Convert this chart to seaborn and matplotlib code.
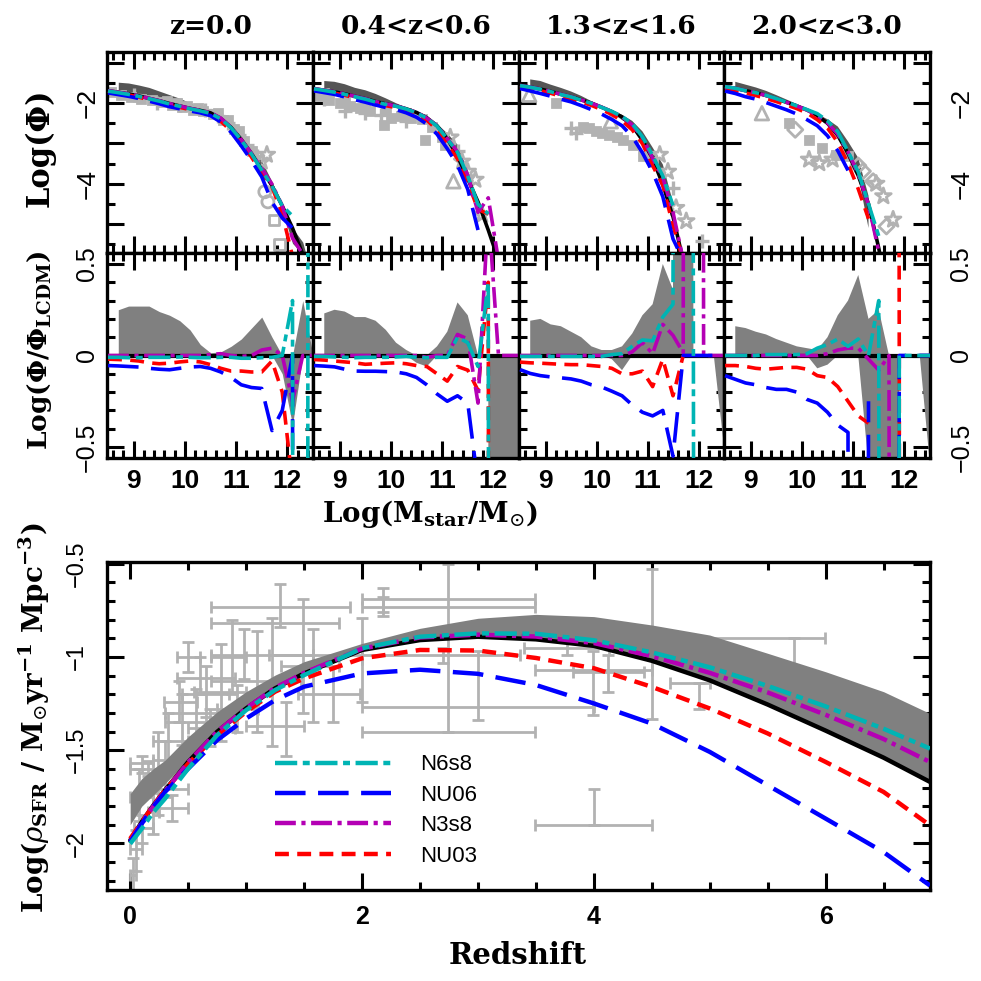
import numpy as np
import matplotlib
matplotlib.use("Agg")
import matplotlib.pyplot as plt
from matplotlib.ticker import MultipleLocator, FuncFormatter
import seaborn as sns

nan = np.nan

# ---------------------------------------------------------------- data
# stellar mass grid, log(Mstar/Msun), shared by the top and middle rows
mass = [8.5, 8.7, 8.9, 9.1, 9.3, 9.5, 9.7, 9.9, 10.1, 10.3, 10.5,
        10.7, 10.9, 11.1, 11.3, 11.5, 11.7, 11.9, 12.1, 12.3, 12.5]

titles = ["z=0.0", "0.4<z<0.6", "1.3<z<1.6", "2.0<z<3.0"]

# log Phi of the LCDM run in each redshift bin
lcdm_z0 = [-1.69, -1.73, -1.77, -1.82, -1.88, -1.94, -2.01, -2.07, -2.13, -2.18, -2.24,
           -2.38, -2.60, -2.90, -3.25, -3.65, -4.05, -4.55, -5.10, -5.75, -6.40]
lcdm_z05 = [-1.64, -1.68, -1.72, -1.77, -1.83, -1.89, -1.96, -2.02, -2.07, -2.14, -2.23,
            -2.36, -2.56, -2.88, -3.32, -3.88, -4.45, -5.15, -5.90, -6.60, -7.30]
lcdm_z15 = [-1.56, -1.60, -1.65, -1.71, -1.78, -1.84, -1.92, -2.00, -2.10, -2.21, -2.34,
            -2.56, -2.92, -3.38, -4.02, -4.82, -5.90, -7.0, -8.0, -9.0, -10.0]
lcdm_z25 = [-1.59, -1.63, -1.69, -1.74, -1.81, -1.89, -1.98, -2.07, -2.17, -2.30, -2.50,
            -2.80, -3.25, -3.80, -4.50, -5.60, -7.0, -8.0, -9.0, -10.0, -11.0]

# spread of the LCDM realisations, log(Phi/Phi_LCDM): upper and lower edge
# (+/-50 marks an empty bin, i.e. far outside the plotted range)
spread_hi_z0 = [nan, 0.25, 0.27, 0.27, 0.27, 0.24, 0.22, 0.19, 0.14, 0.06, 0.015,
                0.02, 0.05, 0.09, 0.15, 0.21, 0.10, 0.0, 0.0, 0.30, 0.0]
spread_lo_z0 = [nan, 0, 0, 0, 0, 0, 0, 0, 0, 0, 0,
                0, 0, 0, 0, 0, 0, -0.10, -0.38, 0.0, 0.0]
spread_hi_z05 = [nan, 0.23, 0.25, 0.24, 0.21, 0.21, 0.19, 0.14, 0.07, 0.03, 0.0,
                 0.0, 0.05, 0.13, 0.29, 0.22, 0.0, 0.0, 0.0, 0.0, 0.0]
spread_lo_z05 = [nan, 0, 0, 0, 0, 0, 0, 0, 0, 0, -0.04,
                 -0.06, 0, 0, 0, 0, 0, 0.0, -50, -50, 0.0]
spread_hi_z15 = [nan, 0.19, 0.20, 0.17, 0.16, 0.13, 0.10, 0.05, 0.03, 0.03, 0.05,
                 0.12, 0.22, 0.28, 0.50, 0.36, 50, 0.0, 0.0, 0.0, 0.0]
spread_lo_z15 = [nan, 0, 0, 0, 0, 0, 0, 0, 0, -0.02, -0.08,
                 0, 0, 0, 0, 0, 0, 0, 0, 0, -0.5]
spread_hi_z25 = [nan, 0.16, 0.15, 0.13, 0.115, 0.09, 0.07, 0.05, 0.04, 0.03, 0.10,
                 0.22, 0.30, 0.44, 0.20, 0.25, 0.0, 0.0, 0.0, 0.0, 0.0]
spread_lo_z25 = [nan, 0, 0, 0, 0, 0, 0, 0, 0, -0.07, -0.05,
                 0, 0, 0, -0.6, -50, -50, 0.0, 0, 0, -0.6]

# model mass functions relative to LCDM, log(Phi/Phi_LCDM)
n6s8_z0 = [-0.01, -0.01, -0.012, -0.012, -0.01, -0.01, -0.01, -0.008, -0.01, -0.012, -0.012,
           -0.01, -0.01, -0.015, -0.015, -0.012, -0.01, 0.0, 0.30, -50, 50]
nu06_z0 = [-0.055, -0.057, -0.06, -0.063, -0.07, -0.075, -0.078, -0.07, -0.063, -0.06, -0.07,
           -0.09, -0.12, -0.16, -0.175, -0.18, -0.41, -0.30, 0.0, -50, nan]
n3s8_z0 = [0.0, 0.0, 0.0, 0.0, 0.0, 0.0, 0.0, 0.0, 0.0, 0.0, 0.005,
           0.01, 0.0, -0.005, 0.0, 0.03, 0.04, 0.0, -0.25, 0.0, 0.0]
nu03_z0 = [-0.02, -0.022, -0.025, -0.03, -0.04, -0.045, -0.042, -0.035, -0.03, -0.035, -0.05,
           -0.07, -0.085, -0.085, -0.09, -0.09, -0.03, -0.20, -0.70, nan, nan]

n6s8_z05 = [-0.005, -0.005, -0.008, -0.01, -0.012, -0.01, -0.01, -0.01, -0.008, -0.005, -0.01,
            -0.012, -0.01, -0.01, 0.10, 0.07, -0.06, 0.40, -50, nan, nan]
nu06_z05 = [-0.055, -0.058, -0.062, -0.075, -0.085, -0.086, -0.086, -0.088, -0.09, -0.10, -0.12,
            -0.16, -0.21, -0.25, -0.22, -0.26, -0.70, nan, nan, nan, nan]
n3s8_z05 = [0.0, 0.0, 0.0, 0.0, 0.0, 0.0, 0.0, 0.0, 0.0, 0.0, 0.0,
            -0.01, 0.0, 0.0, 0.115, 0.09, -0.26, 0.80, 0.0, 0.0, 0.0]
nu03_z05 = [-0.022, -0.025, -0.03, -0.035, -0.04, -0.048, -0.045, -0.042, -0.04, -0.045, -0.055,
            -0.06, -0.10, -0.14, -0.06, -0.08, -0.19, 0.40, -50, nan, nan]

n6s8_z15 = [-0.005, -0.005, -0.005, -0.005, -0.005, -0.005, -0.005, -0.005, -0.005, 0.005, 0.01,
            0.05, 0.085, 0.08, 0.21, 0.28, 50, 0.0, -50, nan, 0.0]
nu06_z15 = [-0.077, -0.098, -0.11, -0.117, -0.122, -0.128, -0.14, -0.16, -0.172, -0.195, -0.22,
            -0.27, -0.31, -0.33, -0.30, -0.55, 0.0, 0.0, 0.0, 0.0, 0.0]
n3s8_z15 = [0.0, 0.0, 0.0, 0.0, 0.0, 0.0, 0.0, 0.0, 0.0, 0.0, 0.0,
            0.02, 0.07, 0.01, 0.17, 0.11, 0.015, 50, 0.0, 0.0, 0.0]
nu03_z15 = [-0.036, -0.04, -0.042, -0.045, -0.048, -0.05, -0.05, -0.055, -0.06, -0.07, -0.10,
            -0.10, -0.085, -0.17, -0.02, -0.22, 0.0, nan, nan, nan, nan]

n6s8_z25 = [0.0, 0.0, 0.0, 0.0, 0.005, 0.005, 0.005, 0.005, 0.01, 0.04, 0.06,
            0.09, 0.05, 0.09, 0.0, 0.30, -50, 0.0, 0.0, 0.0, 0.0]
nu06_z25 = [-0.11, -0.13, -0.15, -0.16, -0.175, -0.185, -0.185, -0.20, -0.24, -0.26, -0.31,
            -0.38, -0.42, -50, -0.25, nan, -50, 0.0, 0.0, 0.0, 0.0]
n3s8_z25 = [0.0, 0.0, 0.0, 0.0, 0.0, 0.0, 0.0, 0.0, 0.0, 0.0, 0.01,
            0.03, 0.04, 0.04, -0.02, -0.08, 0.0, -50, nan, 0.0, 0.0]
nu03_z25 = [-0.055, -0.055, -0.06, -0.07, -0.075, -0.07, -0.065, -0.065, -0.075, -0.11, -0.12,
            -0.17, -0.25, -0.33, -0.37, nan, 50, 0.0, -50, nan, nan]

# observed stellar mass functions (light grey symbols), (logM, logPhi)
obs_z0 = {
    "s": [(8.55, -1.72), (8.75, -1.80), (8.95, -1.85), (9.15, -1.90), (9.35, -1.93),
          (9.55, -1.97), (9.75, -2.05), (9.95, -2.10), (10.15, -2.17), (10.35, -2.20),
          (10.55, -2.27), (10.75, -2.42), (10.95, -2.64), (11.15, -2.95), (11.30, -3.20),
          (9.65, -1.95), (9.85, -2.00), (10.05, -2.08), (10.25, -2.12), (10.65, -2.25),
          (10.85, -2.42), (11.05, -2.70)],
    "+": [(9.0, -1.80), (9.45, -1.99), (9.9, -2.05), (10.4, -2.16), (10.65, -2.32),
          (10.85, -2.50), (11.05, -2.78), (11.22, -3.05), (11.40, -3.30)],
    "*": [(11.60, -3.28), (11.50, -3.45)],
    "o": [(11.62, -4.45), (11.56, -4.20)],
    "box": [(11.74, -4.90), (11.84, -5.50)],
}
obs_z05 = {
    "s": [(8.6, -1.82), (8.8, -1.93), (9.0, -2.00), (9.2, -2.08), (9.4, -2.13), (9.6, -2.20),
          (9.87, -2.54), (10.0, -2.38), (10.2, -2.32), (10.4, -2.36), (10.66, -2.91),
          (10.8, -2.60), (11.0, -2.85), (8.7, -1.75), (9.1, -1.92), (9.5, -2.05),
          (9.9, -2.20), (10.3, -2.25), (10.6, -2.40), (11.05, -3.05)],
    "+": [(8.7, -1.90), (9.1, -2.20), (9.5, -2.25), (9.8, -2.30), (10.3, -2.45),
          (11.1, -2.95), (11.3, -3.20)],
    "*": [(11.16, -2.85), (11.39, -3.45), (11.65, -3.90), (11.78, -4.77), (11.50, -3.70)],
    "^": [(11.22, -3.94)],
}
obs_z15 = {
    "s": [(9.2, -2.00), (9.73, -2.58), (9.99, -2.70), (10.25, -2.79), (10.52, -2.91),
          (10.71, -3.03), (10.91, -3.32), (9.85, -2.62), (10.1, -2.75), (10.4, -2.85),
          (11.1, -3.45)],
    "+": [(9.6, -2.74), (9.5, -2.62), (11.5, -4.10), (12.06, -5.43)],
    "*": [(11.24, -3.28), (11.40, -3.70), (11.56, -4.60), (11.76, -4.93)],
    "^": [(8.68, -1.79), (10.28, -2.45)],
}
obs_z25 = {
    "s": [(9.74, -2.50), (10.14, -2.91), (10.4, -3.12), (10.66, -3.28), (10.9, -3.30)],
    "*": [(10.14, -3.40), (10.34, -3.49), (10.6, -3.40), (11.59, -4.31), (11.78, -4.89),
          (11.45, -4.00)],
    "^": [(9.22, -2.25)],
    "D": [(9.87, -2.66), (11.19, -3.69), (11.39, -3.94), (11.65, -5.06), (11.10, -3.55)],
}

# cosmic star formation history
zgrid = [0.0, 0.1, 0.2, 0.3, 0.5, 0.75, 1.0, 1.25, 1.5, 2.0,
         2.5, 3.0, 3.5, 4.0, 4.5, 5.0, 5.5, 6.0, 6.5, 6.9]
sfr_lcdm = [-1.984, -1.885, -1.796, -1.715, -1.563, -1.401, -1.276, -1.168, -1.088, -0.962,
            -0.909, -0.891, -0.905, -0.94, -1.02, -1.125, -1.255, -1.395, -1.54, -1.67]
sfr_band_hi = [-1.733, -1.652, -1.599, -1.554, -1.428, -1.294, -1.186, -1.097, -1.025, -0.927,
               -0.846, -0.792, -0.771, -0.783, -0.828, -0.882, -0.98, -1.079, -1.186, -1.303]
sfr_band_lo = [-1.90, -1.80, -1.74, -1.68, -1.55, -1.40, -1.27, -1.16, -1.08, -0.955,
               -0.90, -0.885, -0.90, -0.935, -1.015, -1.12, -1.25, -1.39, -1.535, -1.665]
sfr_n6s8 = [-2.002, -1.921, -1.832, -1.76, -1.599, -1.419, -1.285, -1.177, -1.097, -0.953,
            -0.891, -0.873, -0.875, -0.91, -0.975, -1.055, -1.155, -1.265, -1.385, -1.491]
sfr_nu06 = [-1.993, -1.894, -1.805, -1.724, -1.599, -1.446, -1.33, -1.231, -1.159, -1.088,
            -1.068, -1.09, -1.15, -1.249, -1.357, -1.509, -1.688, -1.867, -2.047, -2.226]
sfr_n3s8 = [-1.99, -1.89, -1.80, -1.72, -1.565, -1.40, -1.275, -1.165, -1.085, -0.955,
            -0.895, -0.88, -0.89, -0.925, -0.995, -1.085, -1.19, -1.31, -1.44, -1.563]
sfr_nu03 = [-1.975, -1.885, -1.796, -1.715, -1.572, -1.419, -1.294, -1.186, -1.115, -1.007,
            -0.962, -0.965, -1.005, -1.06, -1.16, -1.276, -1.41, -1.563, -1.724, -1.903]

# observed SFR densities: z, value, z range, value range
obs_z = [0.02, 0.05, 0.10, 0.10, 0.15, 0.24, 0.30, 0.36, 0.20, 0.50, 0.42, 0.57, 0.60, 0.69,
         0.78, 0.88, 0.98, 1.09, 1.22, 1.29, 1.34, 1.49, 1.58, 1.75, 2.00, 2.18, 2.18, 2.74,
         3.00, 2.70, 3.77, 4.12, 4.50, 4.91, 5.73, 4.00, 3.99, 0.08, 0.33, 0.45, 0.65, 0.92]
obs_sfr = [-2.17, -2.03, -1.92, -1.57, -1.60, -1.71, -1.55, -1.81, -1.83, -1.00, -1.24, -1.30,
           -1.11, -1.38, -1.19, -1.00, -0.99, -1.13, -0.82, -0.73, -1.37, -0.99, -1.05, -1.20,
           -1.01, -0.69, -0.73, -1.40, -1.27, -0.99, -0.95, -1.08, -0.93, -1.14, -0.90, -1.90,
           -1.07, -1.75, -1.45, -1.35, -1.20, -1.28]
obs_zlo = [0.0, 0.0, 0.03, 0.0, 0.0, 0.10, 0.20, 0.20, 0.15, 0.40, 0.29, 0.30, 0.40, 0.50,
           0.55, 0.70, 0.70, 0.70, 0.70, 0.70, 1.00, 1.20, 1.30, 1.45, 2.00, 2.00, 2.00, 2.00,
           2.00, 2.00, 3.40, 3.82, 4.50, 4.66, 4.66, 3.49, 3.49, 0.0, 0.20, 0.30, 0.45, 0.75]
obs_zhi = [0.05, 0.10, 0.20, 0.20, 0.35, 0.50, 0.40, 0.50, 0.25, 0.60, 0.58, 0.90, 0.90, 0.90,
           1.00, 1.00, 1.58, 1.47, 1.80, 1.90, 1.50, 2.00, 1.80, 1.98, 2.00, 3.49, 3.49, 3.49,
           4.00, 3.36, 4.13, 4.43, 4.50, 5.00, 5.99, 4.50, 4.50, 0.20, 0.50, 0.65, 0.85, 1.10]
obs_slo = [-2.26, -2.15, -2.00, -1.62, -1.64, -1.85, -1.75, -1.88, -1.95, -1.08, -1.35, -1.43,
           -1.20, -1.48, -1.45, -1.20, -1.12, -1.40, -1.48, -0.84, -1.53, -1.30, -1.35, -1.35,
           -1.24, -0.76, -0.78, -1.40, -1.34, -1.03, -0.99, -1.19, -1.33, -1.28, -1.07, -1.90,
           -1.31, -1.88, -1.58, -1.47, -1.32, -1.40]
obs_shi = [-2.08, -1.93, -1.85, -1.53, -1.56, -1.40, -1.45, -1.74, -1.73, -0.92, -1.13, -1.17,
           -1.00, -1.28, -0.93, -0.80, -0.85, -0.86, -0.79, -0.61, -1.24, -0.69, -0.85, -1.05,
           -0.79, -0.63, -0.68, -0.50, -0.97, -0.95, -0.90, -0.99, -0.53, -1.14, -0.90, -1.71,
           -0.97, -1.60, -1.30, -1.20, -1.05, -1.15]

# ---------------------------------------------------------------- style
sns.set_theme(style="ticks")
plt.rcParams["font.family"] = ["Liberation Sans", "DejaVu Sans"]
plt.rcParams["mathtext.fontset"] = "dejavuserif"
plt.rcParams["lines.scale_dashes"] = False
plt.rcParams["axes.linewidth"] = 2.4
plt.rcParams["axes.edgecolor"] = "black"
plt.rcParams["text.color"] = "black"
plt.rcParams["axes.labelcolor"] = "black"
plt.rcParams["xtick.color"] = "black"
plt.rcParams["ytick.color"] = "black"
plt.rcParams["legend.labelcolor"] = "black"

CYAN, BLUE, MAGENTA, RED = "#00b4b4", "#0000ff", "#b400b4", "#ff0000"
OBS = "#b2b2b2"
models = [("N6s8", CYAN, (0, (16, 4, 5, 4))),
          ("NU06", BLUE, (0, (22, 9))),
          ("N3s8", MAGENTA, (0, (15, 4, 3, 4))),
          ("NU03", RED, (0, (10, 6)))]
draw_order = ["NU03", "N3s8", "NU06", "N6s8"]

lcdm = [lcdm_z0, lcdm_z05, lcdm_z15, lcdm_z25]
spread_hi = [spread_hi_z0, spread_hi_z05, spread_hi_z15, spread_hi_z25]
spread_lo = [spread_lo_z0, spread_lo_z05, spread_lo_z15, spread_lo_z25]
ratios = {"N6s8": [n6s8_z0, n6s8_z05, n6s8_z15, n6s8_z25],
          "NU06": [nu06_z0, nu06_z05, nu06_z15, nu06_z25],
          "N3s8": [n3s8_z0, n3s8_z05, n3s8_z15, n3s8_z25],
          "NU03": [nu03_z0, nu03_z05, nu03_z15, nu03_z25]}
obs_top = [obs_z0, obs_z05, obs_z15, obs_z25]
style_of = {name: (c, ls) for name, c, ls in models}


def fmt(v):
    if abs(v) < 1e-9:
        return "0"
    return ("%g" % round(v, 2)).replace("-", "\u2212")


def frame(ax):
    ax.tick_params(which="both", direction="in", top=True, right=True,
                   width=2.2, color="black", labelcolor="black")
    ax.tick_params(which="major", length=12)
    ax.tick_params(which="minor", length=6)
    for sp in ax.spines.values():
        sp.set_linewidth(2.4)
        sp.set_color("black")
    ax.set_facecolor("white")
    ax.grid(False)


def rotate_y(ax, pad):
    ax.tick_params(axis="y", labelrotation=90, pad=pad)
    for t in ax.yaxis.get_major_ticks():
        t.label1.set_va("center")
        t.label2.set_va("center")


W = 981.0
fig = plt.figure(figsize=(9.81, 9.81), dpi=100)
fig.patch.set_facecolor("white")


def box(x0, y0, x1, y1):
    return [x0 / W, 1 - y1 / W, (x1 - x0) / W, (y1 - y0) / W]


cols = [(107, 313), (313, 519), (519, 724), (724, 930)]
m = np.array(mass)

for i, (x0, x1) in enumerate(cols):
    lc = np.array(lcdm[i])
    hi = np.array(spread_hi[i])
    lo = np.array(spread_lo[i])

    # ------------------------------------------------ mass function
    ax = fig.add_axes(box(x0, 52, x1, 253))
    frame(ax)
    ax.fill_between(m, np.where(np.abs(lo) < 1, lc + lo, nan),
                    np.where(np.abs(hi) < 1, lc + hi, nan),
                    color="#555555", lw=0, zorder=1)
    for mk, pts in obs_top[i].items():
        px = [p[0] for p in pts]
        py = [p[1] for p in pts]
        if mk == "s":
            sns.scatterplot(x=px, y=py, ax=ax, marker="s", color=OBS, s=48,
                            edgecolor=OBS, zorder=2)
        elif mk == "+":
            ax.scatter(px, py, marker="+", color=OBS, s=100, linewidths=2.4, zorder=2)
        else:
            shape = {"box": "s", "*": "*", "o": "o", "^": "^", "D": "D"}[mk]
            size = {"box": 60, "*": 140, "o": 75, "^": 95, "D": 60}[mk]
            ax.scatter(px, py, marker=shape, facecolors="none", edgecolors=OBS,
                       s=size, linewidths=2.0, zorder=2)
    sns.lineplot(x=m, y=lc, ax=ax, color="black", lw=2.6, zorder=3)
    for name in draw_order:
        c, ls = style_of[name]
        r = np.array(ratios[name][i])
        y = np.where(np.abs(r) < 1, lc + r, nan)
        ax.plot(m, y, color=c, lw=2.6, linestyle=ls, zorder=4)
    ax.set_xlim(8.48, 12.5)
    ax.set_ylim(-5.72, -0.73)
    ax.xaxis.set_major_locator(MultipleLocator(1))
    ax.xaxis.set_minor_locator(MultipleLocator(0.2))
    ax.yaxis.set_major_locator(MultipleLocator(1))
    ax.yaxis.set_minor_locator(MultipleLocator(0.5))
    ax.yaxis.set_major_formatter(FuncFormatter(
        lambda v, p: fmt(v) if min(abs(v + 2), abs(v + 4)) < 1e-6 else ""))
    ax.tick_params(labelbottom=False, labelleft=(i == 0), labelright=(i == 3),
                   labelsize=19)
    rotate_y(ax, 5 if i == 0 else 14)
    ax.set_xlabel("")
    ax.set_ylabel("")

    # ------------------------------------------------ ratio to LCDM
    ax2 = fig.add_axes(box(x0, 253, x1, 458))
    frame(ax2)
    ax2.fill_between(m, lo, hi, color="#808080", lw=0, zorder=1)
    ax2.axhline(0, color="black", lw=3.0, zorder=2)
    for name in draw_order:
        c, ls = style_of[name]
        ax2.plot(m, ratios[name][i], color=c, lw=2.6, linestyle=ls, zorder=3)
    ax2.set_xlim(8.48, 12.5)
    ax2.set_ylim(-0.56, 0.56)
    ax2.xaxis.set_major_locator(MultipleLocator(1))
    ax2.xaxis.set_minor_locator(MultipleLocator(0.2))
    ax2.yaxis.set_major_locator(MultipleLocator(0.5))
    ax2.yaxis.set_minor_locator(MultipleLocator(0.1))
    ax2.xaxis.set_major_formatter(FuncFormatter(lambda v, p: "%d" % round(v)))
    ax2.yaxis.set_major_formatter(FuncFormatter(lambda v, p: fmt(v)))
    ax2.tick_params(axis="x", labelsize=19, pad=8)
    ax2.tick_params(axis="y", labelsize=18)
    ax2.tick_params(labelleft=(i == 0), labelright=(i == 3))
    for t in ax2.get_xticklabels():
        t.set_fontweight("bold")
    rotate_y(ax2, 6 if i == 0 else 14)

    fig.text((x0 + x1) / 2 / W, 1 - 27 / W, titles[i], ha="center", va="center",
             fontfamily="DejaVu Serif", fontweight="bold", fontsize=19, color="black")

# ---------------------------------------------------------------- SFR history
axb = fig.add_axes(box(107, 562, 930, 890))
frame(axb)
oz = np.array(obs_z)
osr = np.array(obs_sfr)
axb.errorbar(oz, osr,
             xerr=[oz - np.array(obs_zlo), np.array(obs_zhi) - oz],
             yerr=[osr - np.array(obs_slo), np.array(obs_shi) - osr],
             fmt="none", ecolor=OBS, elinewidth=2.0, capsize=4, capthick=2.0, zorder=1)
axb.fill_between(zgrid, sfr_band_lo, sfr_band_hi, color="#808080", lw=0, zorder=2)
sns.lineplot(x=zgrid, y=sfr_lcdm, ax=axb, color="black", lw=3.2, zorder=3)
sfr_of = {"N6s8": sfr_n6s8, "NU06": sfr_nu06, "N3s8": sfr_n3s8, "NU03": sfr_nu03}
handles = {}
for name in draw_order:
    c, ls = style_of[name]
    (ln,) = axb.plot(zgrid, sfr_of[name], color=c, lw=3.2, linestyle=ls, zorder=4)
    handles[name] = ln
axb.set_xlim(-0.2, 6.9)
axb.set_ylim(-2.25, -0.49)
axb.xaxis.set_major_locator(MultipleLocator(2))
axb.xaxis.set_minor_locator(MultipleLocator(0.5))
axb.yaxis.set_major_locator(MultipleLocator(0.5))
axb.yaxis.set_minor_locator(MultipleLocator(0.1))
axb.xaxis.set_major_formatter(FuncFormatter(lambda v, p: "%d" % round(v)))
axb.yaxis.set_major_formatter(FuncFormatter(lambda v, p: fmt(v)))
axb.tick_params(axis="x", labelsize=18, pad=11)
axb.tick_params(axis="y", labelsize=17)
for t in axb.get_xticklabels():
    t.set_fontweight("bold")
rotate_y(axb, 14)
axb.set_xlabel("")
axb.set_ylabel("")

names = ["N6s8", "NU06", "N3s8", "NU03"]
leg = axb.legend([handles[n] for n in names], names, loc="center left",
                 bbox_to_anchor=((275 - 107) / 823, (890 - 810.5) / 328),
                 frameon=False, fontsize=16, handlelength=5.2, handletextpad=1.35,
                 labelspacing=0.42, borderpad=0, borderaxespad=0)
for t in leg.get_texts():
    t.set_color("black")

# ---------------------------------------------------------------- labels
serif = dict(fontfamily="DejaVu Serif", fontweight="bold", color="black")
fig.text(40 / W, 1 - 148 / W, "Log(\u03a6)", rotation=90, ha="center", va="center",
         fontsize=22, **serif)
fig.text(40 / W, 1 - 350 / W, r"Log($\mathbf{\Phi}$/$\mathbf{\Phi}_{\mathbf{LCDM}}$)",
         rotation=90, ha="center", va="center", fontsize=19, **serif)
fig.text(430 / W, 1 - 514 / W, r"Log(M$_{\mathbf{star}}$/M$_{\odot}$)",
         ha="center", va="center", fontsize=20, **serif)
fig.text(34 / W, 1 - 718 / W,
         r"Log($\rho_{\mathbf{SFR}}$ / M$_{\odot}$yr$^{\mathbf{-1}}$ Mpc$^{\mathbf{-3}}$)",
         rotation=90, ha="center", va="center", fontsize=20, **serif)
fig.text(518 / W, 1 - 955 / W, "Redshift", ha="center", va="center", fontsize=21, **serif)

fig.savefig("out.png", dpi=100, facecolor="white")
